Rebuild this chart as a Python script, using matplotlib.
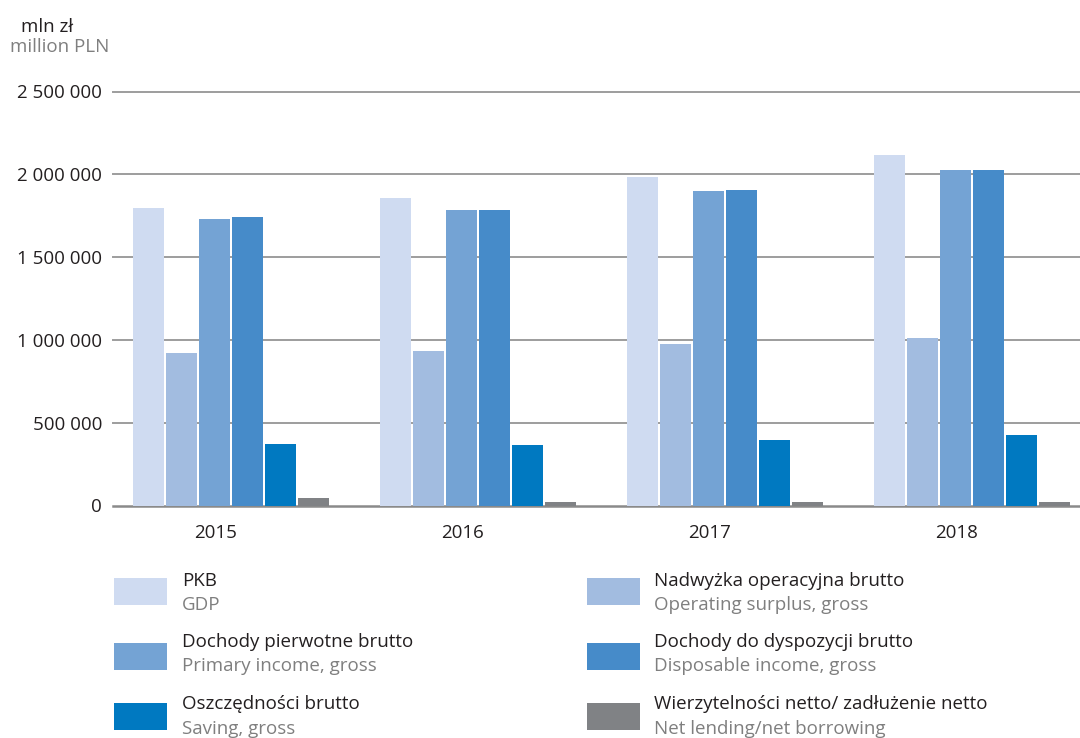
import matplotlib
matplotlib.use("Agg")
import matplotlib.pyplot as plt
from matplotlib.patches import Rectangle
import numpy as np

plt.rcParams['font.family'] = ['Open Sans', 'DejaVu Sans']

years = ["2015", "2016", "2017", "2018"]
series_pl = ["PKB", "Nadwyżka operacyjna brutto", "Dochody pierwotne brutto",
             "Dochody do dyspozycji brutto", "Oszczędności brutto",
             "Wierzytelności netto/ zadłużenie netto"]
series_en = ["GDP", "Operating surplus, gross", "Primary income, gross",
             "Disposable income, gross", "Saving, gross", "Net lending/net borrowing"]
pkb = [1799000, 1859000, 1986000, 2119000]
nadwyzka = [920000, 931000, 973000, 1009000]
pierwotne = [1733000, 1787000, 1902000, 2028000]
dyspozycji = [1745000, 1787000, 1908000, 2028000]
oszczednosci = [370000, 364000, 394000, 424000]
wierzytelnosci = [46000, 20000, 20000, 20000]
yticks = [0, 500000, 1000000, 1500000, 2000000, 2500000]

colors = ["#cfdbf1", "#a2bce0", "#74a3d4", "#468bc9", "#0079c1", "#808285"]
values = [pkb, nadwyzka, pierwotne, dyspozycji, oszczednosci, wierzytelnosci]

FS = 13.5
DARK = "#231f20"
GREY = "#7f7f7f"

W, H = 1080, 738
fig = plt.figure(figsize=(W / 100, H / 100), dpi=100)
ax_left, ax_right = 113, 1080
ax_top, ax_bot = 91.5, 505.5
ax = fig.add_axes([ax_left / W, 1 - ax_bot / H, (ax_right - ax_left) / W, (ax_bot - ax_top) / H])

x = np.arange(len(years))
slot = 33 / 247
bw = 31 / 247
n = len(values)
for k, (vals, c) in enumerate(zip(values, colors)):
    ax.bar(x + (k - (n - 1) / 2) * slot, vals, width=bw, color=c, zorder=3, linewidth=0)

ax.set_xlim((113 - 231) / 247, (1080 - 231) / 247)
ax.set_ylim(0, 2500000)
ax.set_yticks(yticks)
ax.set_yticklabels([f"{v:,}".replace(",", " ") for v in yticks], fontsize=FS, color=DARK)
ax.set_xticks(x - 15 / 247)
ax.set_xticklabels(years, fontsize=FS, color=DARK)
ax.tick_params(axis='both', length=0)
ax.tick_params(axis='y', pad=8)
ax.tick_params(axis='x', pad=13)
for s in ax.spines.values():
    s.set_visible(False)
for v in yticks:
    ax.axhline(v, color="#9d9d9d" if v else "#8a8a8a", linewidth=1.4 if v else 1.8, zorder=1, clip_on=False)

fig.text(47 / W, 1 - 27 / H, "mln zł", fontsize=FS, color=DARK, ha="center", va="center")
fig.text(60 / W, 1 - 47 / H, "million PLN", fontsize=FS, color=GREY, ha="center", va="center")

# legend
rows_y = [(578, 605), (643, 670), (703, 730)]
base_pl = [586, 647, 709]
base_en = [610, 671, 734]
cols = [(114, 167, 182), (587, 640, 654)]
order = [[0, 2, 4], [1, 3, 5]]
for ci, (x0, x1, tx) in enumerate(cols):
    for ri, (y0, y1) in enumerate(rows_y):
        k = order[ci][ri]
        fig.add_artist(Rectangle((x0 / W, 1 - y1 / H), (x1 - x0) / W, (y1 - y0) / H,
                                 transform=fig.transFigure, color=colors[k], linewidth=0))
        fig.text(tx / W, 1 - base_pl[ri] / H, series_pl[k], fontsize=FS, color=DARK, ha="left", va="baseline")
        fig.text(tx / W, 1 - base_en[ri] / H, series_en[k], fontsize=FS, color=GREY, ha="left", va="baseline")

fig.savefig("out.png", dpi=100)
